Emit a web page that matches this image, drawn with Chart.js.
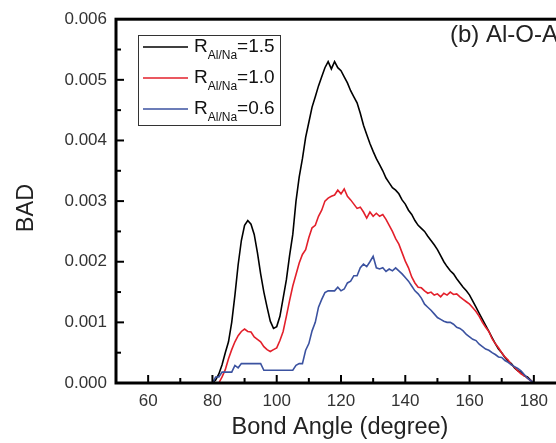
<!DOCTYPE html>
<html>
<head>
<meta charset="utf-8">
<script src="https://cdn.jsdelivr.net/npm/chart.js@4"></script>
<style>
    html, body { margin: 0; padding: 0; background: #fff; overflow: hidden; }
    #wrap { width: 600px; height: 443px; }
</style>
</head>
<body>
<div id="wrap"><canvas id="badChart" width="600" height="443"></canvas></div>
<script>
// Angles (degree), 65 -> 180 step 1
const angleStart = 65;
const angleEnd = 180;

// BAD values in units of 0.001, one per degree from 65 to 180
const bad15 = [
    0, 0, 0, 0, 0, 0, 0, 0, 0, 0, 0, 0, 0, 0, 0,          // 65-79
    0.0, 0.05, 0.15, 0.3, 0.5, 0.68, 1.0, 1.45, 1.95, 2.35, // 80-89
    2.6, 2.68, 2.62, 2.45, 2.15, 1.8, 1.5, 1.25, 1.02, 0.9, // 90-99
    0.93, 1.1, 1.4, 1.7, 2.1, 2.45, 3.0, 3.4, 3.7, 4.05,    // 100-109
    4.3, 4.55, 4.72, 4.9, 5.05, 5.2, 5.3, 5.18, 5.3, 5.2,   // 110-119
    5.15, 5.05, 4.95, 4.82, 4.72, 4.62, 4.45, 4.25, 4.1, 3.95, // 120-129
    3.82, 3.7, 3.6, 3.5, 3.38, 3.3, 3.22, 3.18, 3.12, 3.02, // 130-139
    2.95, 2.85, 2.78, 2.68, 2.6, 2.55, 2.5, 2.42, 2.35, 2.28, // 140-149
    2.2, 2.1, 2.0, 1.92, 1.85, 1.8, 1.72, 1.65, 1.58, 1.52, // 150-159
    1.45, 1.35, 1.25, 1.15, 1.05, 0.95, 0.85, 0.75, 0.65, 0.56, // 160-169
    0.5, 0.42, 0.36, 0.32, 0.25, 0.2, 0.18, 0.12, 0.1, 0.05, // 170-179
    0                                                      // 180
];
const bad10 = [
    0, 0, 0, 0, 0, 0, 0, 0, 0, 0, 0, 0, 0, 0, 0,
    0, 0, 0, 0.1, 0.22, 0.4, 0.55, 0.68, 0.78, 0.85,
    0.89, 0.85, 0.84, 0.76, 0.72, 0.68, 0.6, 0.55, 0.52, 0.55,
    0.58, 0.7, 0.85, 1.1, 1.36, 1.6, 1.79, 1.98, 2.12, 2.2,
    2.4, 2.56, 2.6, 2.75, 2.85, 3.0, 3.05, 3.08, 3.1, 3.18,
    3.12, 3.2, 3.08, 3.02, 2.95, 2.88, 2.9, 2.82, 2.72, 2.82,
    2.75, 2.8, 2.75, 2.78, 2.7, 2.6, 2.5, 2.38, 2.29, 2.15,
    2.01, 1.9, 1.75, 1.65, 1.58, 1.57, 1.52, 1.48, 1.5, 1.45,
    1.47, 1.42, 1.48, 1.45, 1.5, 1.46, 1.47, 1.42, 1.38, 1.34,
    1.3, 1.24, 1.18, 1.1, 1.0, 0.92, 0.85, 0.73, 0.65, 0.58,
    0.5, 0.43, 0.38, 0.3, 0.26, 0.2, 0.15, 0.12, 0.08, 0.04,
    0
];
const bad06 = [
    0, 0, 0, 0, 0, 0, 0, 0, 0, 0, 0, 0, 0, 0, 0,
    0, 0.1, 0.1, 0.18, 0.18, 0.18, 0.18, 0.29, 0.25, 0.32,
    0.32, 0.32, 0.32, 0.32, 0.32, 0.32, 0.21, 0.21, 0.21, 0.21,
    0.21, 0.21, 0.21, 0.21, 0.21, 0.21, 0.29, 0.32, 0.32, 0.54,
    0.65, 0.86, 1.0, 1.25, 1.38, 1.49, 1.52, 1.52, 1.52, 1.58,
    1.52, 1.55, 1.65, 1.68, 1.77, 1.77, 1.9, 1.96, 1.92, 2.0,
    2.09, 1.9, 1.88, 1.9, 1.84, 1.88, 1.85, 1.9, 1.85, 1.8,
    1.74, 1.68, 1.6, 1.52, 1.47, 1.4, 1.3, 1.25, 1.2, 1.14,
    1.08, 1.05, 1.02, 1.0, 1.0, 0.97, 0.92, 0.9, 0.86, 0.8,
    0.76, 0.72, 0.7, 0.64, 0.6, 0.56, 0.54, 0.5, 0.47, 0.43,
    0.42, 0.37, 0.34, 0.3, 0.27, 0.24, 0.2, 0.14, 0.08, 0.04,
    0
];

const seriesRatios = ["1.5", "1.0", "0.6"];
const seriesColors = ["#000000", "#e3202b", "#3b52a0"];
const xTickValues = [60, 80, 100, 120, 140, 160, 180];
const yTickValues = [0, 0.001, 0.002, 0.003, 0.004, 0.005, 0.006];

const FONT = '"Liberation Sans", Arial, sans-serif';

function toPoints(arr) {
    return arr.map((v, i) => ({ x: angleStart + i, y: v / 1000 }));
}

// Cadre, graduations interieures, titres et legende
const decor = {
    id: 'decor',
    afterDatasetsDraw(chart) {
        const ctx = chart.ctx;
        const a = chart.chartArea;
        const xs = chart.scales.x;
        const ys = chart.scales.y;
        ctx.save();
        ctx.strokeStyle = '#000';

        // ticks (inward)
        ctx.lineWidth = 2;
        for (let v = 60; v <= 180; v += 10) {
            const px = xs.getPixelForValue(v);
            const len = (v % 20 === 0) ? 8 : 5;
            ctx.beginPath();
            ctx.moveTo(px, a.bottom);
            ctx.lineTo(px, a.bottom - len);
            ctx.stroke();
        }
        for (let k = 1; k < 12; k++) {
            const py = ys.getPixelForValue(k * 0.0005);
            const len = (k % 2 === 0) ? 8 : 5;
            ctx.beginPath();
            ctx.moveTo(a.left, py);
            ctx.lineTo(a.left + len, py);
            ctx.stroke();
        }

        // frame
        ctx.lineWidth = 3;
        ctx.strokeRect(a.left, a.top, a.right - a.left, a.bottom - a.top);

        // axis titles
        ctx.fillStyle = '#222';
        ctx.font = '23.5px ' + FONT;
        ctx.textAlign = 'center';
        ctx.textBaseline = 'middle';
        ctx.fillText('Bond Angle (degree)', 340, 428);
        ctx.save();
        ctx.translate(27, 208);
        ctx.rotate(-Math.PI / 2);
        ctx.fillText('BAD', 0, 0);
        ctx.restore();

        // panel label
        ctx.textAlign = 'left';
        ctx.font = '24px ' + FONT;
        ctx.fillText('(b) Al-O-Al', 450, 35);

        // legend
        ctx.lineWidth = 1;
        ctx.strokeStyle = '#333';
        ctx.strokeRect(138.5, 35.5, 142, 90);
        seriesRatios.forEach((r, i) => {
            const y = 47 + i * 31;
            ctx.strokeStyle = seriesColors[i];
            ctx.lineWidth = 1.5;
            ctx.beginPath();
            ctx.moveTo(143, y);
            ctx.lineTo(188, y);
            ctx.stroke();
            ctx.fillStyle = '#111';
            ctx.textBaseline = 'middle';
            ctx.font = '19px ' + FONT;
            ctx.fillText('R', 194, y);
            let x = 194 + ctx.measureText('R').width;
            ctx.font = '12px ' + FONT;
            ctx.fillText('Al/Na', x, y + 9);
            x += ctx.measureText('Al/Na').width;
            ctx.font = '19px ' + FONT;
            ctx.fillText('=' + r, x, y);
        });
        ctx.restore();
    }
};

let chart;
function loadChart() {
    const ctx = document.getElementById('badChart');
    const sets = [bad15, bad10, bad06];
    chart = new Chart(ctx, {
        type: 'line',
        data: {
            datasets: sets.map((s, i) => ({
                label: 'R(Al/Na)=' + seriesRatios[i],
                data: toPoints(s),
                borderColor: seriesColors[i],
                borderWidth: 1.6,
                pointRadius: 0,
                tension: 0,
                fill: false,
                order: 2 - i
            }))
        },
        options: {
            responsive: false,
            animation: false,
            layout: { padding: { top: 16, right: 34, left: 0, bottom: 0 } },
            plugins: {
                legend: { display: false },
                tooltip: { enabled: false }
            },
            scales: {
                x: {
                    type: 'linear',
                    min: 50,
                    max: 190,
                    grid: { display: false, drawTicks: false },
                    border: { display: false },
                    afterBuildTicks: s => { s.ticks = xTickValues.map(v => ({ value: v })); },
                    afterFit: s => { s.height = 60; },
                    ticks: {
                        color: '#333',
                        padding: 8,
                        maxRotation: 0,
                        font: { family: FONT, size: 17 }
                    }
                },
                y: {
                    min: 0,
                    max: 0.006,
                    grid: { display: false, drawTicks: false },
                    border: { display: false },
                    afterBuildTicks: s => { s.ticks = yTickValues.map(v => ({ value: v })); },
                    afterFit: s => { s.width = 116; },
                    ticks: {
                        color: '#333',
                        padding: 9,
                        callback: v => Number(v).toFixed(3),
                        font: { family: FONT, size: 17 }
                    }
                }
            }
        },
        plugins: [decor]
    });
}
document.addEventListener("DOMContentLoaded", loadChart);
</script>
</body>
</html>
